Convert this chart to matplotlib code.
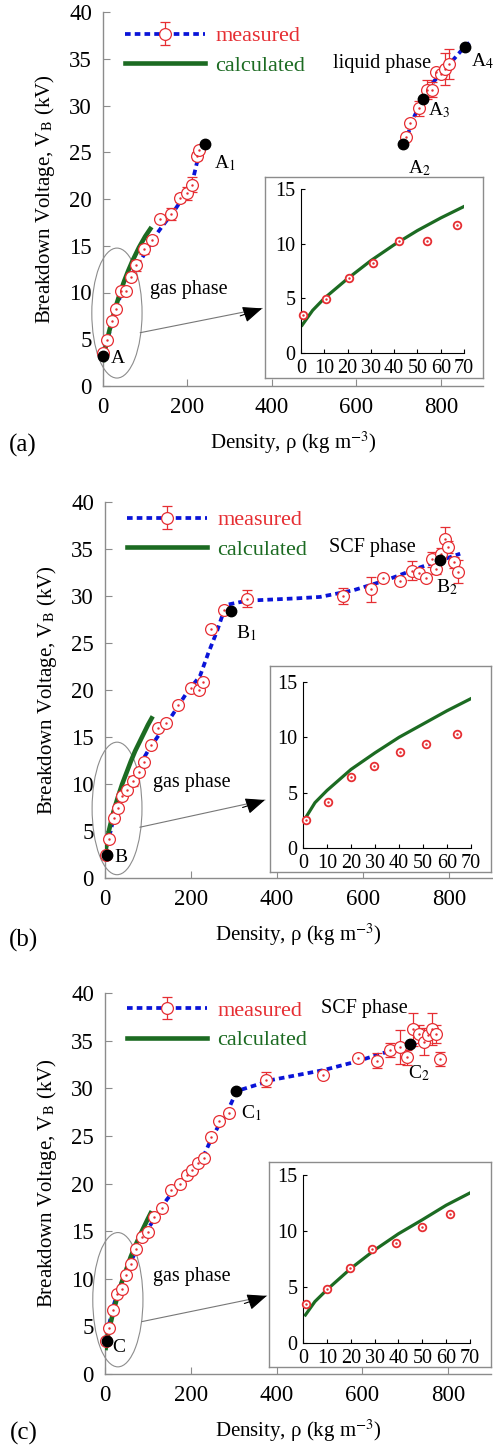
import matplotlib
matplotlib.use("Agg")
import matplotlib.pyplot as plt
import numpy as np
from matplotlib.patches import Ellipse

plt.rcParams['font.family'] = ['Liberation Serif', 'DejaVu Serif']
plt.rcParams['mathtext.fontset'] = 'stix'

RED = '#e62e33'
BLUE = '#0a14d8'
GREEN = '#1c6b22'
GRAY = '#8c8c8c'

# ---------------- data: panel (a) ----------------
rho_a_gas = [1, 10.6, 20.5, 30.9, 41.9, 54.1, 67, 79, 97, 115, 135, 162, 182, 200, 210, 222, 228]
V_a_gas = [3.5, 4.9, 6.9, 8.2, 10.2, 10.2, 11.7, 12.9, 14.6, 15.6, 17.9, 18.4, 20.1, 20.6, 21.5, 24.6, 25.2]
err_a_gas = [0.2, 0.2, 0.2, 0.3, 0.3, 0.3, 0.4, 0.6, 0.5, 0.4, 0.3, 0.6, 0.4, 0.7, 0.8, 0.4, 0.3]
rho_a_liq = [718.5, 727, 748.5, 768, 778.5, 789.7, 800, 809.5, 819.7]
V_a_liq = [26.6, 28.1, 29.7, 31.7, 31.7, 33.6, 33.4, 33.9, 34.4]
err_a_liq = [0.3, 0.4, 0.8, 1.0, 0.8, 0.3, 0.3, 1.7, 1.6]
rho_a_fit1 = [0, 20, 40, 58, 94, 123, 139, 171, 210, 222, 242]
V_a_fit1 = [3.2, 6.5, 9.5, 11.2, 13.8, 16.0, 17.0, 18.9, 21.5, 23.8, 25.9]
rho_a_fit2 = [710, 721, 737, 757, 782, 820, 857, 870]
V_a_fit2 = [25.9, 26.8, 28.8, 30.7, 32.5, 34.4, 36.3, 36.8]
rho_a_key = [0, 242, 710, 757, 858]
V_a_key = [3.2, 25.9, 25.9, 30.7, 36.3]
rho_a_calc = [0.5, 5, 10, 20, 30, 40, 50, 60, 70, 85, 100, 115]
V_a_calc = [2.55, 3.9, 5.0, 6.8, 8.45, 9.9, 11.2, 12.35, 13.4, 14.8, 16.0, 17.0]

# ---------------- data: panel (b) ----------------
rho_b = [1.4, 10.4, 19.8, 29.6, 40.4, 51.2, 64, 79, 91, 107, 124, 141, 170, 200, 218, 228,
         247, 276, 330, 553, 618, 647, 686, 713, 731, 746.5, 760, 770, 780.6, 790.7, 798.5,
         812, 821.7]
V_b = [2.5, 4.2, 6.4, 7.44, 8.7, 9.39, 10.3, 11.3, 12.3, 14.2, 16.0, 16.5, 18.4, 20.2, 20.0, 20.8,
       26.5, 28.5, 29.7, 30.0, 30.7, 31.9, 31.6, 32.7, 32.4, 31.9, 33.9, 32.9, 34.5, 36.1, 35.2,
       33.6, 32.6]
err_b = [0.2, 0.2, 0.2, 0.2, 0.3, 0.3, 0.5, 0.3, 0.3, 0.3, 0.3, 0.3, 0.3, 0.3, 0.3, 0.3,
         0.3, 0.3, 0.9, 0.9, 1.3, 0.3, 0.3, 1.0, 0.3, 0.3, 0.8, 0.6, 0.6, 1.2, 0.6,
         0.6, 1.2]
rho_b_fit = [0, 12, 23, 44, 74, 101, 128, 159, 190, 221, 240, 260, 275, 287, 330, 446, 500,
             577, 655, 733, 826]
V_b_fit = [2.4, 4.8, 6.9, 9.0, 11.5, 13.6, 15.4, 17.5, 19.7, 21.5, 23.9, 26.2, 28.2, 29.1,
           29.5, 29.75, 29.9, 30.6, 31.7, 33.05, 34.5]
rho_b_key = [3.9, 294, 779]
V_b_key = [2.4, 28.4, 33.8]
rho_b_calc = [1, 5, 10, 20, 30, 40, 50, 60, 70, 85, 100, 111]
V_b_calc = [2.7, 4.1, 5.2, 7.1, 8.6, 10.0, 11.2, 12.4, 13.5, 14.9, 16.3, 17.2]

# ---------------- data: panel (c) ----------------
rho_c = [1.4, 10, 19.5, 29.1, 39, 50, 61.6, 72, 85.4, 99.4, 115, 133.6, 153, 174.8, 190.3,
         202.7, 216, 230.7, 247, 265.6, 288, 375, 508.7, 590, 634.5, 665.6, 687, 705, 718.4,
         732.4, 744, 753, 763.4, 772.8, 780.5]
V_c = [3.46, 4.86, 6.74, 8.41, 8.95, 10.4, 11.5, 13.1, 14.4, 14.9, 16.5, 17.4, 19.3, 20.0, 20.9,
       21.4, 22.1, 22.7, 24.9, 26.6, 27.4, 30.9, 31.4, 33.2, 32.9, 34.0, 34.3, 33.25, 36.2,
       35.7, 34.9, 35.6, 36.2, 35.7, 33.1]
err_c = [0.2, 0.2, 0.2, 0.2, 0.2, 0.2, 0.2, 0.2, 0.2, 0.2, 0.2, 0.2, 0.2, 0.2, 0.2,
         0.2, 0.2, 0.2, 0.2, 0.2, 0.2, 0.8, 0.2, 0.2, 0.8, 0.7, 1.8, 0.8, 1.75,
         0.95, 1.4, 0.3, 1.65, 0.95, 0.75]
rho_c_fit = [0, 10, 20, 30, 45, 60, 80, 101, 144, 190, 229, 245, 264, 284, 303, 314, 392, 509,
             586, 656, 711, 780]
V_c_fit = [3.2, 5.3, 7.2, 8.6, 10.3, 11.8, 13.6, 15.3, 18.3, 20.9, 22.8, 24.4, 26.0, 27.4, 29.3,
           29.8, 30.9, 31.9, 32.8, 33.8, 34.5, 35.6]
rho_c_key = [3.9, 304.5, 710.6]
V_c_key = [3.5, 29.7, 34.6]
rho_c_calc = [1, 5, 10, 20, 30, 40, 50, 60, 70, 85, 100, 109]
V_c_calc = [2.5, 3.7, 4.75, 6.65, 8.3, 9.75, 11.0, 12.3, 13.4, 14.9, 16.3, 17.1]

N_INSET = 7  # first points shown in the zoomed view

W, H = 493, 1448
fig = plt.figure(figsize=(W / 100, H / 100), dpi=100)


def px_axes(l, t, r, b):
    return fig.add_axes([l / W, 1 - b / H, (r - l) / W, (b - t) / H])


def draw_panel(main_box, frame_box, inset_box, rho, V, err, fits, key_rho, key_V,
               rho_calc, V_calc, ell, arrow, labels, letter, letter_xy, leg_y):
    ax = px_axes(*main_box)
    for fr, fv in fits:
        ax.plot(fr, fv, color=BLUE, lw=2.7, dashes=(1.5, 1.1), zorder=2)
    ax.plot(rho_calc, V_calc, color=GREEN, lw=3.3, zorder=3, solid_capstyle='butt')
    for r_, v_, e_ in zip(rho, V, err):
        ax.errorbar(r_, v_, yerr=e_, fmt='o', ms=8.5, mfc='white', mec=RED, mew=0.9,
                    ecolor=RED, elinewidth=0.9, capsize=3.5, capthick=0.9, zorder=4,
                    clip_on=False)
    ax.plot(rho, V, ls='none', marker='.', ms=1.5, color=RED, zorder=5, clip_on=False)
    ax.plot(key_rho, key_V, ls='none', marker='o', ms=7.5, color='black', zorder=6,
            clip_on=False)

    # legend
    h1 = ax.errorbar([np.nan], [np.nan], yerr=[1], fmt='o', ls='--', dashes=(1.5, 1.1),
                     color=BLUE, lw=2.7, ms=8.5, mfc='white', mec=RED, mew=0.9,
                     ecolor=RED, elinewidth=0.9, capsize=3.5)
    h2, = ax.plot([], [], color=GREEN, lw=3.3)
    ax.legend([h1, h2], ['measured', 'calculated'], loc='upper left',
              bbox_to_anchor=(0.035, leg_y), frameon=False, fontsize=16,
              handlelength=3.6, handletextpad=0.45, labelspacing=0.42,
              labelcolor=[RED, GREEN], numpoints=1, borderaxespad=0)

    ax.add_patch(Ellipse(ell[0], ell[1], ell[2], fill=False, ec=GRAY, lw=0.8,
                         clip_on=False, zorder=1))
    ax.annotate('', xy=arrow[1], xytext=arrow[0],
                arrowprops=dict(arrowstyle='-', color='#777777', lw=0.8,
                                shrinkA=0, shrinkB=0), annotation_clip=False)
    ax.annotate('', xy=arrow[1], xytext=arrow[2],
                arrowprops=dict(arrowstyle='-|>,head_length=1.2,head_width=0.5',
                                color='black', lw=0.8, shrinkA=0, shrinkB=0),
                annotation_clip=False)
    for txt, x, y, fs in labels:
        ax.text(x, y, txt, fontsize=fs, ha='left', va='center', zorder=7, clip_on=False)

    ax.set_xlim(0, 900)
    ax.set_ylim(0, 40)
    ax.set_xticks([0, 200, 400, 600, 800])
    ax.set_yticks(np.arange(0, 41, 5))
    for s in ['top', 'right']:
        ax.spines[s].set_visible(False)
    for s in ['left', 'bottom']:
        ax.spines[s].set_color(GRAY)
        ax.spines[s].set_linewidth(1.0)
    ax.tick_params(direction='in', length=5, width=0.8, color=GRAY, labelsize=16.5, pad=8)
    ax.set_xlabel('Density, ρ (kg m$^{-3}$)', fontsize=15, labelpad=8)
    ax.set_ylabel('Breakdown Voltage, V$_\\mathrm{B}$ (kV)', fontsize=15, labelpad=9)
    fig.text(letter_xy[0] / W, 1 - letter_xy[1] / H, letter, fontsize=18, va='center')

    # inset frame and inset
    fr_ax = px_axes(*frame_box)
    fr_ax.set_xticks([])
    fr_ax.set_yticks([])
    fr_ax.patch.set_facecolor('white')
    for s in fr_ax.spines.values():
        s.set_color(GRAY)
        s.set_linewidth(1.0)
    ins = px_axes(*inset_box)
    ins.patch.set_alpha(0)
    ins.plot(rho_calc[:9], V_calc[:9], color=GREEN, lw=2.3, zorder=2)
    ins.plot(rho[:N_INSET], V[:N_INSET], ls='none', marker='o', ms=5.5, mfc='white',
             mec=RED, mew=1.3, zorder=3, clip_on=False)
    ins.plot(rho[:N_INSET], V[:N_INSET], ls='none', marker='.', ms=1.5, color=RED,
             zorder=4, clip_on=False)
    ins.set_xlim(0, 70)
    ins.set_ylim(0, 15)
    ins.set_xticks(np.arange(0, 71, 10))
    ins.set_yticks([0, 5, 10, 15])
    for s in ['top', 'right']:
        ins.spines[s].set_visible(False)
    ins.tick_params(direction='in', length=3, width=0.8, labelsize=14.5, pad=4)
    return ax


draw_panel((103, 12, 483, 386), (265, 177, 483, 378), (301, 189, 464, 353),
           rho_a_gas + rho_a_liq, V_a_gas + V_a_liq, err_a_gas + err_a_liq,
           [(rho_a_fit1, V_a_fit1), (rho_a_fit2, V_a_fit2)], rho_a_key, V_a_key,
           rho_a_calc, V_a_calc,
           ((33, 7.8), 119, 13.9), ((88, 5.7), (377, 8.3), (325, 7.5)),
           [('A', 18, 2.9, 14), ('A$_1$', 262, 23.8, 14), ('A$_2$', 722, 23.3, 14),
            ('A$_3$', 770, 29.5, 14), ('A$_4$', 872, 34.7, 14),
            ('liquid phase', 545, 34.5, 14.5), ('gas phase', 111, 10.3, 14.5)],
           '(a)', (9, 445), 0.987)

draw_panel((105, 502, 492, 878), (270, 666, 491, 872), (303, 682, 471, 848),
           rho_b, V_b, err_b, [(rho_b_fit, V_b_fit)], rho_b_key, V_b_key,
           rho_b_calc, V_b_calc,
           ((28, 7.4), 116, 14.1), ((81, 5.4), (372, 8.3), (320, 7.5)),
           [('B', 22, 2.2, 14), ('B$_1$', 305, 26.1, 14), ('B$_2$', 770, 30.9, 14),
            ('SCF phase', 522, 35.2, 14.5), ('gas phase', 111, 10.2, 14.5)],
           '(b)', (9, 940), 1.003)

draw_panel((105, 993, 491, 1374), (269, 1162, 491, 1367), (303, 1175, 470, 1343),
           rho_c, V_c, err_c, [(rho_c_fit, V_c_fit)], rho_c_key, V_c_key,
           rho_c_calc, V_c_calc,
           ((30, 7.8), 117, 14.1), ((86, 5.5), (377, 8.2), (325, 7.4)),
           [('C', 18, 2.8, 14), ('C$_1$', 316, 27.4, 14), ('C$_2$', 707, 31.6, 14),
            ('SCF phase', 504, 38.4, 14.5), ('gas phase', 111, 10.2, 14.5)],
           '(c)', (10, 1433), 1.005)

fig.savefig('out.png', dpi=100)
